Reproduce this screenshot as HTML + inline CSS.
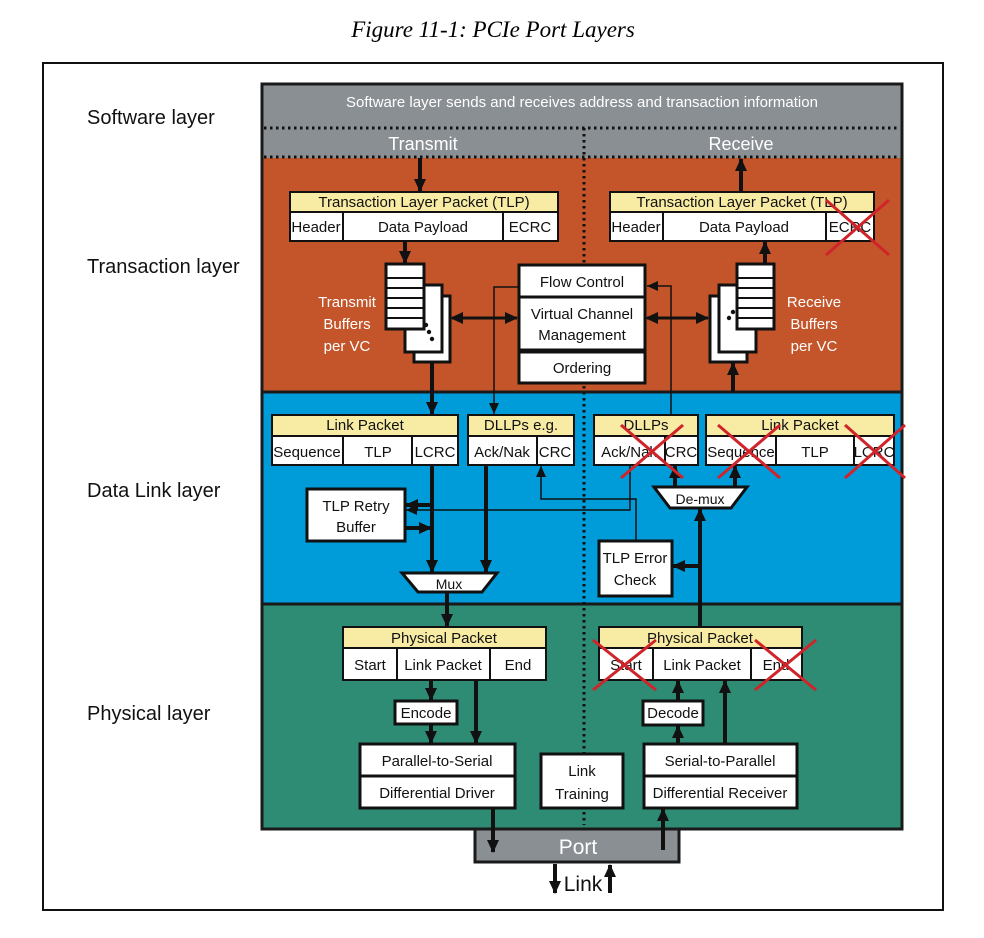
<!DOCTYPE html>
<html><head><meta charset="utf-8"><style>
html,body{margin:0;padding:0;background:#fff;}
svg{display:block;}
text{font-family:"Liberation Sans",sans-serif;}
</style></head><body>
<svg width="984" height="938" viewBox="0 0 984 938" xmlns="http://www.w3.org/2000/svg">
<defs>
<marker id="a" markerUnits="userSpaceOnUse" markerWidth="14" markerHeight="14" refX="12" refY="7" orient="auto"><path d="M0,1 L13,7 L0,13 z" fill="#111"/></marker>
<marker id="as" markerUnits="userSpaceOnUse" markerWidth="12" markerHeight="12" refX="11" refY="6" orient="auto"><path d="M0,1 L11,6 L0,11 z" fill="#111"/></marker>
<marker id="ab" markerUnits="userSpaceOnUse" markerWidth="14" markerHeight="14" refX="2" refY="7" orient="auto"><path d="M13,1 L0,7 L13,13 z" fill="#111"/></marker>
</defs>
<text x="493" y="37" text-anchor="middle" font-style="italic" font-size="23" style="font-family:'Liberation Serif',serif">Figure 11-1: PCIe Port Layers</text>
<rect x="43" y="63" width="900" height="847" fill="none" stroke="#111" stroke-width="2"/>
<g font-size="20" fill="#111">
<text x="87" y="124">Software layer</text>
<text x="87" y="273">Transaction layer</text>
<text x="87" y="497">Data Link layer</text>
<text x="87" y="720">Physical layer</text>
</g>
<rect x="262" y="84" width="640" height="74" fill="#8a8f94"/>
<rect x="262" y="158" width="640" height="234" fill="#c4552b"/>
<rect x="262" y="392" width="640" height="212" fill="#009bd9"/>
<rect x="262" y="604" width="640" height="225" fill="#2e8b74"/>
<rect x="262" y="84" width="640" height="745" fill="none" stroke="#1a1a1a" stroke-width="3"/>
<line x1="262" y1="392" x2="902" y2="392" stroke="#1a1a1a" stroke-width="3"/>
<line x1="262" y1="604" x2="902" y2="604" stroke="#1a1a1a" stroke-width="3"/>
<line x1="264" y1="128" x2="900" y2="128" stroke="#111" stroke-width="3" stroke-dasharray="2.5 3.5"/>
<line x1="264" y1="157" x2="900" y2="157" stroke="#111" stroke-width="3" stroke-dasharray="2.5 3.5"/>
<line x1="584" y1="128" x2="584" y2="825" stroke="#111" stroke-width="3" stroke-dasharray="2.5 3.5"/>
<text x="582" y="107" text-anchor="middle" fill="#fff" font-size="15">Software layer sends and receives address and transaction information</text>
<text x="423" y="150" text-anchor="middle" fill="#fff" font-size="18">Transmit</text>
<text x="741" y="150" text-anchor="middle" fill="#fff" font-size="18">Receive</text>
<rect x="475" y="829" width="204" height="33" fill="#8a8f94" stroke="#1a1a1a" stroke-width="3"/>
<text x="578" y="854" text-anchor="middle" fill="#fff" font-size="21">Port</text>
<text x="583" y="891" text-anchor="middle" fill="#111" font-size="21">Link</text>

<g stroke="#111" stroke-width="2" font-size="15">
<rect x="290" y="192" width="268" height="20" fill="#f8eca4"/>
<rect x="290" y="212" width="268" height="29" fill="#fff"/>
<line x1="343" y1="212" x2="343" y2="241"/><line x1="503" y1="212" x2="503" y2="241"/>
<rect x="610" y="192" width="264" height="20" fill="#f8eca4"/>
<rect x="610" y="212" width="264" height="29" fill="#fff"/>
<line x1="663" y1="212" x2="663" y2="241"/><line x1="826" y1="212" x2="826" y2="241"/>
<rect x="519" y="265" width="126" height="32" fill="#fff" stroke-width="3"/>
<rect x="519" y="297" width="126" height="53" fill="#fff" stroke-width="3"/>
<rect x="519" y="352" width="126" height="31" fill="#fff" stroke-width="3"/>
<!-- tx buffers -->
<rect x="414" y="296" width="36" height="66" fill="#fff" stroke-width="3"/>
<rect x="405" y="285" width="37" height="67" fill="#fff" stroke-width="3"/>
<rect x="386" y="264" width="38" height="65" fill="#fff" stroke-width="3"/>
<line x1="386" y1="278" x2="424" y2="278"/><line x1="386" y1="288" x2="424" y2="288"/><line x1="386" y1="298" x2="424" y2="298"/><line x1="386" y1="308" x2="424" y2="308"/><line x1="386" y1="318" x2="424" y2="318"/>
<!-- rx buffers -->
<rect x="710" y="296" width="37" height="66" fill="#fff" stroke-width="3"/>
<rect x="719" y="285" width="37" height="67" fill="#fff" stroke-width="3"/>
<rect x="737" y="264" width="37" height="65" fill="#fff" stroke-width="3"/>
<line x1="737" y1="278" x2="774" y2="278"/><line x1="737" y1="288" x2="774" y2="288"/><line x1="737" y1="298" x2="774" y2="298"/><line x1="737" y1="308" x2="774" y2="308"/><line x1="737" y1="318" x2="774" y2="318"/>
<rect x="272" y="415" width="186" height="21" fill="#f8eca4"/><rect x="272" y="436" width="186" height="29" fill="#fff"/>
<line x1="343" y1="436" x2="343" y2="465"/><line x1="412" y1="436" x2="412" y2="465"/>
<rect x="468" y="415" width="106" height="21" fill="#f8eca4"/><rect x="468" y="436" width="106" height="29" fill="#fff"/>
<line x1="537" y1="436" x2="537" y2="465"/>
<rect x="594" y="415" width="104" height="21" fill="#f8eca4"/><rect x="594" y="436" width="104" height="29" fill="#fff"/>
<line x1="665" y1="436" x2="665" y2="465"/>
<rect x="706" y="415" width="188" height="21" fill="#f8eca4"/><rect x="706" y="436" width="188" height="29" fill="#fff"/>
<line x1="776" y1="436" x2="776" y2="465"/><line x1="854" y1="436" x2="854" y2="465"/>
<rect x="307" y="489" width="98" height="52" fill="#fff" stroke-width="3"/>
<rect x="599" y="541" width="73" height="55" fill="#fff" stroke-width="3"/>
<path d="M402,573 L497,573 L482,592 L418,592 z" fill="#fff" stroke-width="3"/>
<path d="M654,487 L747,487 L731,508 L670,508 z" fill="#fff" stroke-width="3"/>
<rect x="343" y="627" width="203" height="21" fill="#f8eca4"/><rect x="343" y="648" width="203" height="32" fill="#fff"/>
<line x1="397" y1="648" x2="397" y2="680"/><line x1="490" y1="648" x2="490" y2="680"/>
<rect x="599" y="627" width="203" height="21" fill="#f8eca4"/><rect x="599" y="648" width="203" height="32" fill="#fff"/>
<line x1="653" y1="648" x2="653" y2="680"/><line x1="751" y1="648" x2="751" y2="680"/>
<rect x="395" y="701" width="62" height="23" fill="#fff" stroke-width="3"/>
<rect x="643" y="701" width="60" height="24" fill="#fff" stroke-width="3"/>
<rect x="360" y="744" width="155" height="32" fill="#fff" stroke-width="3"/>
<rect x="360" y="776" width="155" height="32" fill="#fff" stroke-width="3"/>
<rect x="541" y="754" width="82" height="54" fill="#fff" stroke-width="3"/>
<rect x="644" y="744" width="153" height="32" fill="#fff" stroke-width="3"/>
<rect x="644" y="776" width="153" height="32" fill="#fff" stroke-width="3"/>
</g>
<g fill="#111"><circle cx="426" cy="325" r="2.2"/><circle cx="429" cy="332" r="2.2"/><circle cx="432" cy="339" r="2.2"/><circle cx="729" cy="318" r="2.2"/><circle cx="733" cy="312" r="2.2"/></g>

<g font-size="15" fill="#111" text-anchor="middle">
<text x="424" y="207">Transaction Layer Packet (TLP)</text>
<text x="316" y="232">Header</text><text x="423" y="232">Data Payload</text><text x="530" y="232">ECRC</text>
<text x="742" y="207">Transaction Layer Packet (TLP)</text>
<text x="636" y="232">Header</text><text x="744" y="232">Data Payload</text><text x="850" y="232">ECRC</text>
<text x="582" y="287">Flow Control</text>
<text x="582" y="319">Virtual Channel</text><text x="582" y="340">Management</text>
<text x="582" y="373">Ordering</text>
<text x="365" y="430">Link Packet</text>
<text x="307" y="457">Sequence</text><text x="378" y="457">TLP</text><text x="435" y="457">LCRC</text>
<text x="521" y="430">DLLPs e.g.</text>
<text x="502" y="457">Ack/Nak</text><text x="555" y="457">CRC</text>
<text x="646" y="430">DLLPs</text>
<text x="629" y="457">Ack/Nak</text><text x="681" y="457">CRC</text>
<text x="800" y="430">Link Packet</text>
<text x="741" y="457">Sequence</text><text x="815" y="457">TLP</text><text x="874" y="457">LCRC</text>
<text x="356" y="511">TLP Retry</text><text x="356" y="532">Buffer</text>
<text x="635" y="563">TLP Error</text><text x="635" y="585">Check</text>
<text x="449" y="589" font-size="14">Mux</text>
<text x="700" y="504" font-size="14">De-mux</text>
<text x="444" y="643">Physical Packet</text>
<text x="370" y="670">Start</text><text x="443" y="670">Link Packet</text><text x="518" y="670">End</text>
<text x="700" y="643">Physical Packet</text>
<text x="626" y="670">Start</text><text x="702" y="670">Link Packet</text><text x="776" y="670">End</text>
<text x="426" y="718">Encode</text><text x="673" y="718">Decode</text>
<text x="437" y="766">Parallel-to-Serial</text><text x="437" y="798">Differential Driver</text>
<text x="582" y="776">Link</text><text x="582" y="799">Training</text>
<text x="720" y="766">Serial-to-Parallel</text><text x="720" y="798">Differential Receiver</text>
</g>
<g font-size="15" fill="#fff" text-anchor="middle">
<text x="347" y="307">Transmit</text><text x="347" y="329">Buffers</text><text x="347" y="351">per VC</text>
<text x="814" y="307">Receive</text><text x="814" y="329">Buffers</text><text x="814" y="351">per VC</text>
</g>

<g stroke="#111" stroke-width="4" fill="none" marker-end="url(#a)">
<line x1="420" y1="158" x2="420" y2="191"/>
<line x1="741" y1="192" x2="741" y2="159"/>
<line x1="405" y1="241" x2="405" y2="263"/>
<line x1="432" y1="362" x2="432" y2="414"/>
<line x1="765" y1="264" x2="765" y2="242"/>
<line x1="733" y1="392" x2="733" y2="363"/>
<line x1="432" y1="465" x2="432" y2="572"/>
<line x1="486" y1="465" x2="486" y2="572"/>
<line x1="432" y1="505" x2="406" y2="505"/>
<line x1="405" y1="528" x2="431" y2="528"/>
<line x1="675" y1="487" x2="675" y2="466"/>
<line x1="735" y1="487" x2="735" y2="466"/>
<line x1="700" y1="627" x2="700" y2="509"/>
<line x1="700" y1="566" x2="673" y2="566"/>
<line x1="447" y1="592" x2="447" y2="626"/>
<line x1="431" y1="680" x2="431" y2="700"/>
<line x1="431" y1="724" x2="431" y2="743"/>
<line x1="476" y1="680" x2="476" y2="743"/>
<line x1="678" y1="701" x2="678" y2="681"/>
<line x1="678" y1="744" x2="678" y2="726"/>
<line x1="725" y1="744" x2="725" y2="681"/>
<line x1="493" y1="808" x2="493" y2="852"/>
<line x1="663" y1="850" x2="663" y2="809"/>
<line x1="555" y1="864" x2="555" y2="893"/>
<line x1="610" y1="893" x2="610" y2="865"/>
</g>
<g stroke="#111" stroke-width="3" fill="none">
<line x1="452" y1="318" x2="517" y2="318" marker-end="url(#a)" marker-start="url(#ab)"/>
<line x1="647" y1="318" x2="708" y2="318" marker-end="url(#a)" marker-start="url(#ab)"/>
</g>
<g stroke="#111" stroke-width="1.5" fill="none" marker-end="url(#as)">
<polyline points="519,287 494,287 494,414"/>
<polyline points="671,415 671,286 647,286"/>
<polyline points="630,465 630,510 406,510"/>
<polyline points="636,541 636,499 541,499 541,466"/>
</g>
<g stroke="#d0242b" stroke-width="3">
<line x1="826" y1="200" x2="889" y2="255"/><line x1="826" y1="255" x2="889" y2="200"/>
<line x1="621" y1="425" x2="683" y2="478"/><line x1="621" y1="478" x2="683" y2="425"/>
<line x1="718" y1="425" x2="780" y2="478"/><line x1="718" y1="478" x2="780" y2="425"/>
<line x1="845" y1="425" x2="905" y2="478"/><line x1="845" y1="478" x2="905" y2="425"/>
<line x1="593" y1="640" x2="656" y2="690"/><line x1="593" y1="690" x2="656" y2="640"/>
<line x1="755" y1="640" x2="816" y2="690"/><line x1="755" y1="690" x2="816" y2="640"/>
</g>
</svg>
</body></html>
